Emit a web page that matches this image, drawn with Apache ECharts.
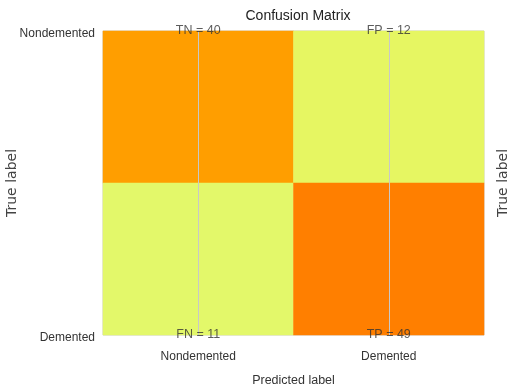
<!DOCTYPE html>
<html>
<head>
<meta charset="utf-8">
<script src="https://cdn.jsdelivr.net/npm/echarts@6/dist/echarts.min.js"></script>
<style>html,body{margin:0;padding:0;background:#fff}#c{width:510px;height:390px}</style>
</head>
<body>
<div id="c"></div>
<script>
var predLabels = ['Nondemented', 'Demented'];
var trueLabels = ['Demented', 'Nondemented']; // bottom to top
// rows: true Nondemented, true Demented ; cols: pred Nondemented, pred Demented
var trueRows = ['Nondemented', 'Demented'];
var cellNames = [['TN', 'FP'], ['FN', 'TP']];
var cellValues = [[40, 12], [11, 49]];
var titleText = 'Confusion Matrix';
var xName = 'Predicted label';
var yName = 'True label';

var FONT = '"Liberation Sans Narrow", "Arial Narrow", "Liberation Sans", sans-serif';

var heat = [], notes = [];
for (var r = 0; r < trueRows.length; r++) {
  for (var c = 0; c < predLabels.length; c++) {
    heat.push([predLabels[c], trueRows[r], cellValues[r][c]]);
    notes.push({ value: [predLabels[c], trueRows[r]], name: cellNames[r][c] + ' = ' + cellValues[r][c] });
  }
}

var chart = echarts.init(document.getElementById('c'), null, { renderer: 'canvas' });
chart.setOption({
  animation: false,
  backgroundColor: '#fff',
  title: {
    text: titleText, left: 293, top: 4, textAlign: 'center',
    textStyle: { fontFamily: FONT, fontSize: 14, fontWeight: 'normal', color: '#222' }
  },
  grid: { left: 103, right: 26, top: 31, bottom: 55, show: true, borderColor: '#cccccc', borderWidth: 1,
          containLabel: false, outerBoundsMode: 'none' },
  xAxis: [{
    type: 'category', data: predLabels, position: 'bottom',
    axisLine: { show: false }, axisTick: { show: false }, splitLine: { show: false },
    axisLabel: { fontFamily: FONT, fontSize: 12, color: '#333', margin: 16 },
    name: xName, nameLocation: 'middle', nameGap: 39, nameMoveOverlap: false,
    nameTextStyle: { fontFamily: FONT, fontSize: 12.5, color: '#333' }
  }],
  yAxis: [{
    type: 'category', data: trueLabels, position: 'right',
    axisLine: { show: false }, axisTick: { show: false }, splitLine: { show: false },
    axisLabel: { show: false },
    name: yName, nameLocation: 'middle', nameGap: 12, nameRotate: 90, nameMoveOverlap: false,
    nameTextStyle: { fontFamily: '"DejaVu Sans", sans-serif', fontSize: 14, color: '#444' }
  }, {
    type: 'category', data: trueLabels, position: 'left', boundaryGap: false,
    axisLine: { show: false }, axisTick: { show: false }, splitLine: { show: false },
    axisLabel: { fontFamily: FONT, fontSize: 12, color: '#333', margin: 8, verticalAlign: 'top', lineHeight: 6 },
    name: yName, nameLocation: 'middle', nameGap: 84, nameRotate: 90, nameMoveOverlap: false,
    nameTextStyle: { fontFamily: '"DejaVu Sans", sans-serif', fontSize: 14, color: '#444' }
  }],
  visualMap: {
    show: false, min: 11, max: 49, dimension: 2, seriesIndex: 0,
    inRange: { color: ['#e3f86a', '#ffe81a', '#ffbd00', '#ffa000', '#ff7f00'] }
  },
  series: [{
    type: 'heatmap', xAxisIndex: 0, yAxisIndex: 0, data: heat,
    itemStyle: { borderWidth: 0 },
    label: { show: false },
    markLine: {
      silent: true, symbol: 'none', animation: false,
      label: { show: false },
      lineStyle: { color: '#c8c8c8', width: 1, type: 'solid' },
      data: predLabels.map(function (p) { return { xAxis: p }; })
    }
  }, {
    type: 'scatter', xAxisIndex: 0, yAxisIndex: 1, data: notes,
    symbolSize: 0, z: 5,
    label: {
      show: true, position: 'top', distance: -6,
      formatter: function (p) { return p.name; },
      fontFamily: FONT, fontSize: 12.5, color: '#333'
    }
  }]
});
</script>
</body>
</html>
